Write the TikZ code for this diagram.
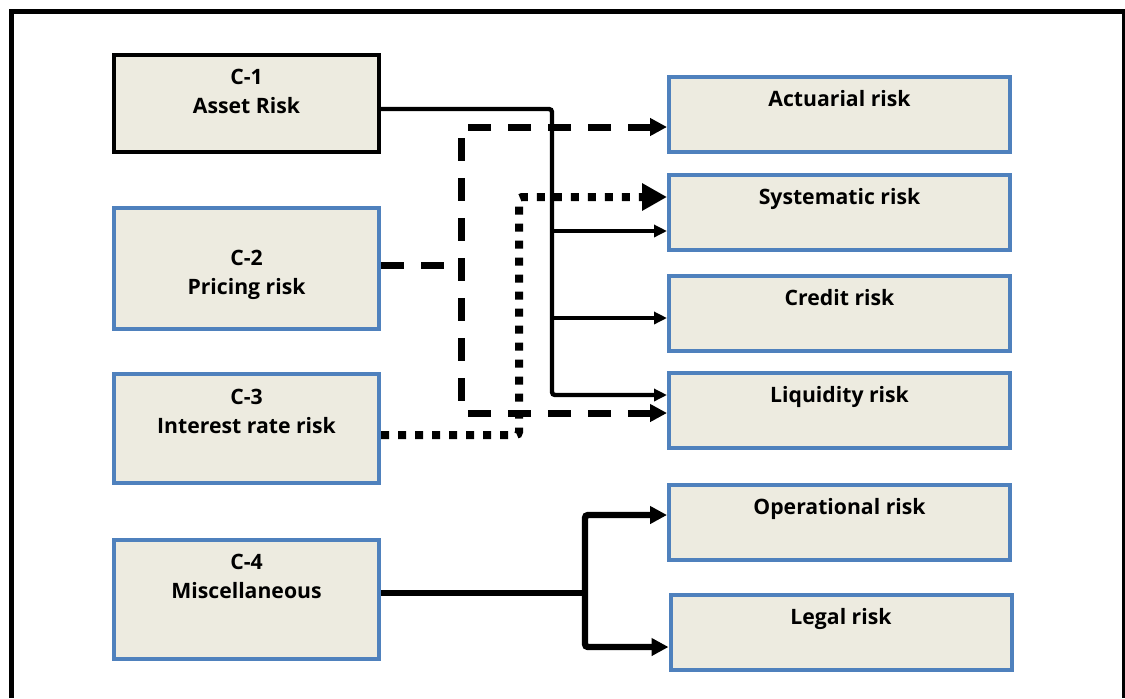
\documentclass[tikz,border=0pt]{standalone}
\usepackage{fontspec}
\setmainfont{Open Sans}
\usetikzlibrary{arrows.meta}
\definecolor{boxfill}{RGB}{237,235,224}
\definecolor{boxblue}{RGB}{79,129,189}
\newcommand{\lifted}[2]{\raisebox{#1}[0pt][0pt]{\begin{tabular}{@{}c@{}}#2\end{tabular}}}

\begin{document}
\begin{tikzpicture}[x=0.5pt, y=-0.5pt,
  font=\bfseries\fontsize{10.6}{14.5}\selectfont,
  riskbox/.style={draw=boxblue, line width=2pt, fill=boxfill, inner sep=0pt},
  leftbox/.style={riskbox, minimum width=132.5pt},
  rightbox/.style={riskbox, minimum width=170.5pt, minimum height=37.5pt},
  thinlink/.style={line width=2.2pt, rounded corners=1.5pt, -{Triangle[length=6.5pt,width=6pt]}},
  dashlink/.style={line width=3.5pt, dash pattern=on 11.5pt off 8.5pt, rounded corners=1.5pt},
  dotlink/.style={line width=4pt, dash pattern=on 4pt off 4.5pt, rounded corners=1.5pt},
  heavylink/.style={line width=3.2pt, rounded corners=1.5pt}]
	\useasboundingbox (0,0) rectangle (1125,698);
	\draw[line width=2.5pt] (11,698) -- (11,11) -- (1124,11) -- (1124,698);
	% source boxes
	\node[leftbox, draw=black, minimum height=48.5pt] (c1) at (246.5,103.5) {\lifted{2.25pt}{C-1\\Asset Risk}};
	\node[leftbox, minimum height=60.5pt] (c2) at (246.5,268) {\lifted{-5.75pt}{C-2\\Pricing risk}};
	\node[leftbox, minimum height=54.5pt] (c3) at (246.5,428) {\lifted{4.75pt}{C-3\\Interest rate risk}};
	\node[leftbox, minimum height=59.5pt] (c4) at (246.5,599) {\lifted{7.75pt}{C-4\\Miscellaneous}};
	% risk boxes
	\node[rightbox] (act) at (839.5,114.5) {\lifted{4.25pt}{Actuarial risk}};
	\node[rightbox] (sys) at (839.5,212.5) {\lifted{4.25pt}{Systematic risk}};
	\node[rightbox] (cred) at (839.5,313.5) {\lifted{4.25pt}{Credit risk}};
	\node[rightbox] (liq) at (839.5,410.5) {\lifted{4.25pt}{Liquidity risk}};
	\node[rightbox] (op) at (839.5,522.5) {\lifted{4.25pt}{Operational risk}};
	\node[rightbox] (legal) at (841,632.5) {\lifted{4.25pt}{Legal risk}};
	% C-1 links
	\coordinate (busA) at (552,109);
	\coordinate (busAs) at (552,231);
	\coordinate (busAc) at (552,318);
	\coordinate (busAl) at (552,395);
	\draw[thinlink] (c1.east |- busA) -- (busA) -- (busAl) -- (liq.west |- busAl);
	\draw[thinlink] (busAs) -- (sys.west |- busAs);
	\draw[thinlink] (busAc) -- (cred.west |- busAc);
	% C-2 links
	\coordinate (busB) at (461,127);
	\coordinate (busBm) at (461,265);
	\coordinate (busBl) at (461,413);
	\draw[dashlink] (c2.east |- busBm) -- (busBm);
	\draw[dashlink, {Triangle[length=8.5pt,width=8.5pt]}-{Triangle[length=8.5pt,width=8.5pt]}] (act.west |- busB) -- (busB) -- (busBl) -- (liq.west |- busBl);
	% C-3 link
	\coordinate (busC) at (519,197);
	\coordinate (busCb) at (519,435);
	\draw[dotlink, -{Triangle[length=12.5pt,width=13pt]}] (c3.east |- busCb) -- (busCb) -- (busC) -- (sys.west |- busC);
	% C-4 links
	\coordinate (busD) at (585,593);
	\coordinate (busDo) at (585,515);
	\coordinate (busDl) at (585,647);
	\draw[heavylink] (c4.east |- busD) -- (busD);
	\draw[heavylink, {Triangle[length=8.5pt,width=8.5pt]}-{Triangle[length=8.5pt,width=8.5pt]}] (op.west |- busDo) -- (busDo) -- (busDl) -- (legal.west |- busDl);
\end{tikzpicture}
\end{document}
